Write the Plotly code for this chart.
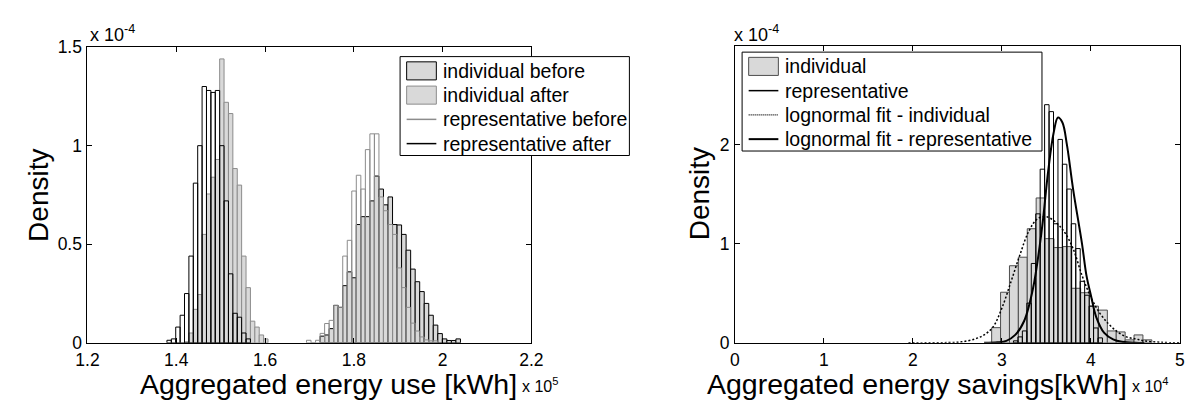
import numpy as np
import plotly.graph_objects as go

# ---------------- Left panel: aggregated energy use ----------------
# x in units of 1e5 kWh, density in units of 1e-4 per kWh
rep_after_start = 1.379
rep_after_width = 0.0099
rep_after_density = [0.013, 0.02, 0.08, 0.14, 0.25, 0.44, 0.81, 1.00, 1.30, 1.28,
                     1.27, 1.28, 1.00, 0.72, 0.35, 0.15, 0.13, 0.05, 0.02]

ind_after_start = 1.4186
ind_after_width = 0.0099
ind_after_density = [0.005, 0.05, 0.17, 0.245, 0.55, 0.755, 0.84, 0.93, 1.44, 1.22,
                     1.163, 0.884, 0.80, 0.44, 0.28, 0.11, 0.08, 0.04, 0.02]

rep_before_start = 1.6934
rep_before_width = 0.0102
rep_before_density = [0.013, 0.0, 0.013, 0.048, 0.098, 0.114, 0.19, 0.18, 0.44, 0.52,
                      0.77, 0.85, 0.78, 0.98, 1.06, 1.06, 0.74, 0.67, 0.60, 0.55,
                      0.38, 0.28, 0.18, 0.10, 0.06, 0.03, 0.015, 0.01, 0.01]

ind_before_start = 1.7240
ind_before_width = 0.0102
ind_before_density = [0.034, 0.04, 0.072, 0.19, 0.18, 0.29, 0.36, 0.33, 0.60, 0.64,
                      0.64, 0.72, 0.846, 0.78, 0.70, 0.74, 0.60, 0.598, 0.55, 0.47,
                      0.374, 0.31, 0.26, 0.20, 0.14, 0.09, 0.047, 0.02, 0.012, 0.012, 0.02]

left_xticks = [1.2, 1.4, 1.6, 1.8, 2.0, 2.2]
left_xticklabels = ["1.2", "1.4", "1.6", "1.8", "2", "2.2"]
left_yticks = [0, 0.5, 1.0, 1.5]
left_yticklabels = ["0", "0.5", "1", "1.5"]

# ---------------- Right panel: aggregated energy savings ----------------
# x in units of 1e4 kWh, density in units of 1e-4 per kWh
sav_ind_start = 2.885
sav_ind_width = 0.1
sav_ind_density = [0.153, 0.51, 0.777, 0.863, 1.15, 1.46, 1.05, 0.96, 0.97, 0.55,
                   0.505, 0.37, 0.33, 0.12, 0.11, 0.03, 0.08, 0.03]

sav_rep_start = 3.13
sav_rep_width = 0.05
sav_rep_density = [0.02, 0.06, 0.12, 0.40, 0.80, 1.30, 1.75, 2.40, 2.33, 1.20,
                   2.05, 1.80, 1.55, 1.20, 0.95, 0.62, 0.48, 0.37, 0.15, 0.05]

fit_ind_x = [1.95, 2.2, 2.4, 2.55, 2.7, 2.8, 2.9, 3.0, 3.1, 3.2, 3.3, 3.4, 3.5,
             3.6, 3.7, 3.8, 3.9, 4.0, 4.1, 4.2, 4.3, 4.4, 4.5, 4.6, 4.8, 5.0]
fit_ind_y = [0.0, 0.0, 0.003, 0.01, 0.04, 0.08, 0.16, 0.35, 0.61, 0.88, 1.12, 1.25, 1.27,
             1.22, 1.12, 0.95, 0.68, 0.46, 0.30, 0.19, 0.11, 0.06, 0.04, 0.02, 0.005, 0.0]

fit_rep_x = [2.8, 2.95, 3.05, 3.15, 3.25, 3.35, 3.45, 3.52, 3.58, 3.63, 3.68, 3.73,
             3.80, 3.90, 3.95, 4.0, 4.06, 4.15, 4.25, 4.35, 4.5, 4.6]
fit_rep_y = [0.0, 0.005, 0.02, 0.08, 0.22, 0.55, 1.15, 1.73, 2.11, 2.27, 2.22, 2.0,
             1.55, 1.0, 0.68, 0.48, 0.26, 0.10, 0.035, 0.01, 0.0, 0.0]

right_xticks = [0, 1, 2, 3, 4, 5]
right_yticks = [0, 1, 2]

# ---------------- styling ----------------
FONT = "Liberation Sans, Arial, sans-serif"
GRAY_FILL = "#d9d9d9"
MID_GRAY = "#8c8c8c"
DARK_GRAY = "#4d4d4d"
CLEAR = "rgba(0,0,0,0)"
W, H = 1200, 408


def centers(start, width, vals):
    return start + width * (np.arange(len(vals)) + 0.5)


def PX(x):
    return x / W


def PY(y):
    return 1 - y / H


fig = go.Figure()

def add_hist(start, width, vals, fill, edge, xa, ya, name):
    fig.add_trace(go.Bar(
        x=centers(start, width, vals), y=vals, width=width, name=name,
        marker=dict(color=fill, line=dict(color=edge, width=1)),
        xaxis=xa, yaxis=ya, showlegend=False, hoverinfo="skip"))

add_hist(ind_before_start, ind_before_width, ind_before_density, GRAY_FILL, "black", "x", "y", "individual before")
add_hist(ind_after_start, ind_after_width, ind_after_density, GRAY_FILL, MID_GRAY, "x", "y", "individual after")
add_hist(rep_before_start, rep_before_width, rep_before_density, CLEAR, MID_GRAY, "x", "y", "representative before")
add_hist(rep_after_start, rep_after_width, rep_after_density, CLEAR, "black", "x", "y", "representative after")

add_hist(sav_ind_start, sav_ind_width, sav_ind_density, GRAY_FILL, DARK_GRAY, "x2", "y2", "individual")
add_hist(sav_rep_start, sav_rep_width, sav_rep_density, CLEAR, "black", "x2", "y2", "representative")

fig.add_trace(go.Scatter(x=fit_ind_x, y=fit_ind_y, mode="lines", name="lognormal fit - individual",
                         line=dict(color="black", width=1.5, dash="2px,2px", shape="spline"),
                         xaxis="x2", yaxis="y2", showlegend=False, hoverinfo="skip"))
fig.add_trace(go.Scatter(x=fit_rep_x, y=fit_rep_y, mode="lines", name="lognormal fit - representative",
                         line=dict(color="black", width=2, shape="spline"),
                         xaxis="x2", yaxis="y2", showlegend=False, hoverinfo="skip"))

axis_common = dict(showline=True, linecolor="black", linewidth=1, mirror="ticks",
                   ticks="inside", ticklen=5, tickcolor="black", showgrid=False,
                   zeroline=False, tickfont=dict(size=17.5, color="black", family=FONT))

fig.update_layout(
    width=W, height=H, margin=dict(l=0, r=0, t=0, b=0),
    paper_bgcolor="white", plot_bgcolor="white", barmode="overlay",
    font=dict(family=FONT, color="black"), showlegend=False,
    xaxis=dict(domain=[PX(77), PX(530)], range=[1.2, 2.2], tickvals=left_xticks,
               ticktext=left_xticklabels, anchor="y", ticklabelstandoff=1, **axis_common),
    yaxis=dict(domain=[PY(350), PY(39)], range=[0, 1.5], tickvals=left_yticks,
               ticktext=left_yticklabels, anchor="x", ticklabelstandoff=1, **axis_common),
    xaxis2=dict(domain=[PX(737.7), PX(1191.7)], range=[0, 5], tickvals=right_xticks,
                anchor="y2", ticklabelstandoff=1, **axis_common),
    yaxis2=dict(domain=[PY(350), PY(38)], range=[0, 2.99], tickvals=right_yticks,
                anchor="x2", ticklabelstandoff=1, **axis_common),
)

shapes = []
annotations = []

def txt(x, y, s, size, **kw):
    d = dict(x=PX(x), y=PY(y), xref="paper", yref="paper", text=s, showarrow=False,
             font=dict(size=size, color="black", family=FONT))
    d.update(kw)
    annotations.append(d)

# exponent labels and axis titles
txt(78, 39, "x 10<sup>-4</sup>", 18, xanchor="left", yanchor="bottom")
txt(735, 39, "x 10<sup>-4</sup>", 18, xanchor="left", yanchor="bottom")
txt(27, 195, "Density", 28, textangle=-90, xanchor="center", yanchor="middle")
txt(701.5, 193.3, "Density", 28, textangle=-90, xanchor="center", yanchor="middle")
txt(517, 393.5, "Aggregated energy use [kWh]", 28.5, xanchor="right", yanchor="middle")
txt(518, 394, "x 10<sup>5</sup>", 16, xanchor="left", yanchor="middle")
txt(1140, 393.5, "Aggregated energy savings[kWh]", 28.5, xanchor="right", yanchor="middle")
txt(1141, 394, "x 10<sup>4</sup>", 16, xanchor="left", yanchor="middle")

# manual legends (MATLAB style)
def legend(x0, y0, x1, y1, entries):
    shapes.append(dict(type="rect", xref="paper", yref="paper", x0=PX(x0), x1=PX(x1),
                       y0=PY(y1), y1=PY(y0), fillcolor="white", line=dict(color="black", width=1)))
    for i, (label, kind, color, extra) in enumerate(entries):
        cy = y0 + 15 + 25.5 * i
        sx0, sx1 = x0 + 6.7, x0 + 37
        if kind == "patch":
            shapes.append(dict(type="rect", xref="paper", yref="paper", x0=PX(sx0), x1=PX(sx1),
                               y0=PY(cy + 9.5), y1=PY(cy - 9.5), fillcolor=GRAY_FILL,
                               line=dict(color=color, width=1)))
        else:
            shapes.append(dict(type="line", xref="paper", yref="paper", x0=PX(sx0), x1=PX(sx1),
                               y0=PY(cy), y1=PY(cy), line=dict(color=color, **extra)))
        txt(x0 + 42, cy, label, 19.5, xanchor="left", yanchor="middle")

legend(396, 49, 630, 153, [
    ("individual before", "patch", "black", {}),
    ("individual after", "patch", MID_GRAY, {}),
    ("representative before", "line", MID_GRAY, dict(width=1.5)),
    ("representative after", "line", "black", dict(width=1.5)),
])
legend(745, 44.3, 1051, 148.3, [
    ("individual", "patch", DARK_GRAY, {}),
    ("representative", "line", "black", dict(width=1.5)),
    ("lognormal fit - individual", "line", "black", dict(width=1.2, dash="1px,1px")),
    ("lognormal fit - representative", "line", "black", dict(width=2)),
])

fig.update_layout(shapes=shapes, annotations=annotations)

fig.write_html("out.html", config={"displayModeBar": False},
               post_script="document.body.style.margin='0';document.body.style.overflow='hidden';")
